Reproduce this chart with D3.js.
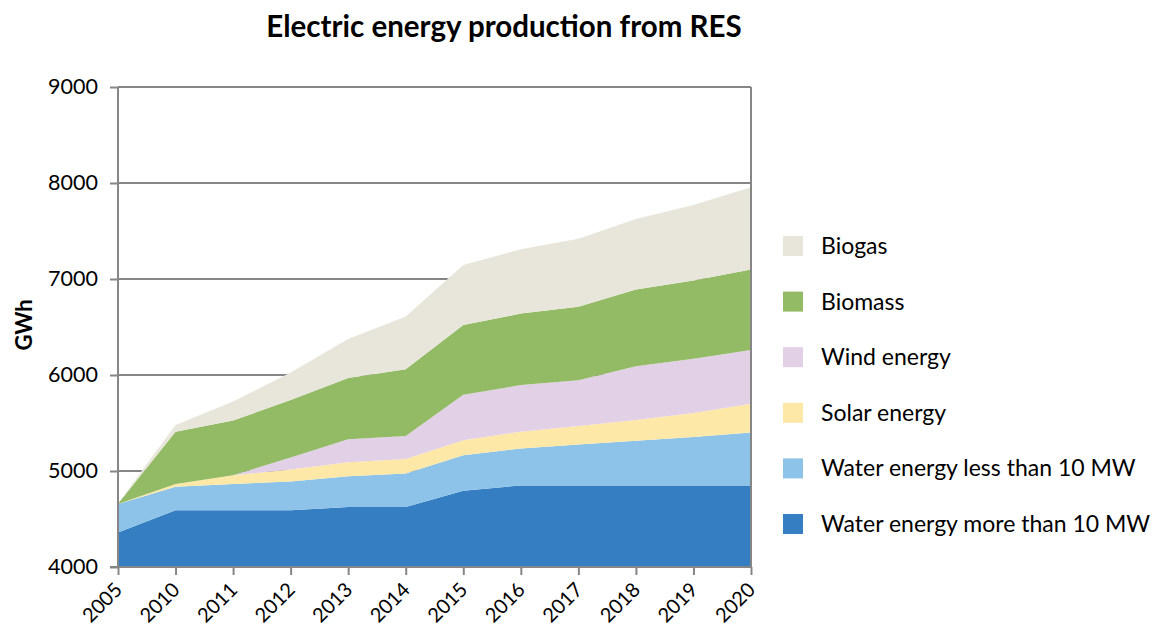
<!DOCTYPE html>
<html>
<head>
<meta charset="utf-8">
<script src="https://cdn.jsdelivr.net/npm/d3@7"></script>
<style>
  html, body { margin: 0; padding: 0; background: #fff; }
  svg { display: block; font-family: Lato, "Open Sans", sans-serif; }
</style>
</head>
<body>
<svg id="chart" width="1158" height="629"></svg>
<script>
// Years on the horizontal axis
const years = ["2005", "2010", "2011", "2012", "2013", "2014", "2015", "2016", "2017", "2018", "2019", "2020"];

// Production per source, GWh
const hydroLarge = [4360, 4590, 4590, 4590, 4625, 4625, 4795, 4850, 4850, 4850, 4850, 4850];
const hydroSmall = [295, 245, 275, 300, 320, 350, 370, 385, 425, 465, 505, 550];
const solar      = [0, 30, 90, 125, 145, 150, 155, 175, 195, 215, 250, 300];
const wind       = [0, 0, 0, 125, 240, 240, 475, 485, 475, 560, 565, 560];
const biomass    = [5, 545, 570, 600, 640, 695, 725, 745, 765, 800, 815, 840];
const biogas     = [5, 70, 200, 285, 405, 550, 625, 670, 710, 735, 785, 855];

const seriesNames = [
  "Water energy more than 10 MW",
  "Water energy less than 10 MW",
  "Solar energy",
  "Wind energy",
  "Biomass",
  "Biogas"
];
const seriesValues = [hydroLarge, hydroSmall, solar, wind, biomass, biogas];
const seriesColors = ["#347ec1", "#8dc3e9", "#fde8a8", "#e2d0e6", "#93ba64", "#e8e6db"];

const yTicks = [4000, 5000, 6000, 7000, 8000, 9000];

const svg = d3.select("#chart");
const plotLeft = 118, plotRight = 751, plotTop = 87, plotBottom = 567;
const labelFont = "Lato, 'Open Sans', sans-serif";

const x = d3.scalePoint().domain(years).range([plotLeft, plotRight]);
const y = d3.scaleLinear().domain([4000, 9000]).range([plotBottom, plotTop]);

// Build rows for the stack
const keys = seriesNames;
const rows = years.map((yr, i) => {
  const r = { year: yr };
  keys.forEach((k, j) => { r[k] = seriesValues[j][i]; });
  return r;
});
const stacked = d3.stack().keys(keys)(rows);

const axisColor = "#868686";

// Horizontal grid lines (behind the areas)
svg.append("g")
  .selectAll("line")
  .data(yTicks.filter(t => t > 4000))
  .join("line")
  .attr("x1", plotLeft).attr("x2", plotRight)
  .attr("y1", d => y(d)).attr("y2", d => y(d))
  .attr("stroke", axisColor)
  .attr("stroke-width", 2);

// Clip the areas to the plotting region
svg.append("clipPath").attr("id", "plot-clip")
  .append("rect")
  .attr("x", plotLeft).attr("y", plotTop)
  .attr("width", plotRight - plotLeft).attr("height", plotBottom - plotTop);

const area = d3.area()
  .x(d => x(d.data.year))
  .y0(d => y(d[0]))
  .y1(d => y(d[1]));

svg.append("g")
  .attr("clip-path", "url(#plot-clip)")
  .selectAll("path")
  .data(stacked)
  .join("path")
  .attr("d", area)
  .attr("fill", (d, i) => seriesColors[i]);

// Y axis
const yAxis = svg.append("g")
  .attr("transform", `translate(${plotLeft},0)`)
  .call(d3.axisLeft(y).tickValues(yTicks).tickSize(8).tickPadding(12).tickFormat(d3.format("d")));
yAxis.select(".domain").attr("stroke", axisColor).attr("stroke-width", 2)
  .attr("d", `M0,${plotBottom}V${plotTop}`);
yAxis.selectAll(".tick line").attr("stroke", axisColor).attr("stroke-width", 2);
yAxis.selectAll(".tick text")
  .attr("fill", "#000")
  .style("font-size", "21.5px")
  .style("font-family", labelFont);

// Right border of the plot
svg.append("line")
  .attr("x1", plotRight).attr("x2", plotRight)
  .attr("y1", plotTop).attr("y2", plotBottom + 1)
  .attr("stroke", axisColor).attr("stroke-width", 2);

// X axis
const xAxis = svg.append("g")
  .attr("transform", `translate(0,${plotBottom})`)
  .call(d3.axisBottom(x).tickSize(8).tickPadding(0));
xAxis.select(".domain").attr("stroke", axisColor).attr("stroke-width", 2)
  .attr("d", `M${plotLeft - 8},0H${plotRight}`);
xAxis.selectAll(".tick line").attr("stroke", axisColor).attr("stroke-width", 2);
xAxis.selectAll(".tick text")
  .attr("fill", "#000")
  .attr("text-anchor", "end")
  .attr("dy", null)
  .attr("y", 0)
  .attr("transform", "translate(5,24) rotate(-45)")
  .style("font-size", "20px")
  .style("font-family", labelFont);

// Y axis title
svg.append("text")
  .attr("transform", "translate(32,325) rotate(-90)")
  .attr("text-anchor", "middle")
  .style("font-size", "22px")
  .style("font-weight", "bold")
  .text("GWh");

// Chart title
svg.append("text")
  .attr("x", 504).attr("y", 37)
  .attr("text-anchor", "middle")
  .style("font-size", "29.5px")
  .style("font-weight", "bold")
  .text("Electric energy production from RES");

// Legend, top entry is the top layer
const legendItems = seriesNames.map((n, i) => ({ name: n, color: seriesColors[i] })).reverse();
const legend = svg.append("g").attr("transform", "translate(783,236)");
const li = legend.selectAll("g")
  .data(legendItems)
  .join("g")
  .attr("transform", (d, i) => `translate(0,${i * 55.6})`);
li.append("rect")
  .attr("width", 20).attr("height", 20)
  .attr("fill", d => d.color);
li.append("text")
  .attr("x", 38).attr("y", 10)
  .attr("dy", "0.35em")
  .style("font-family", labelFont)
  .style("font-size", "23px")
  .text(d => d.name);
</script>
</body>
</html>
